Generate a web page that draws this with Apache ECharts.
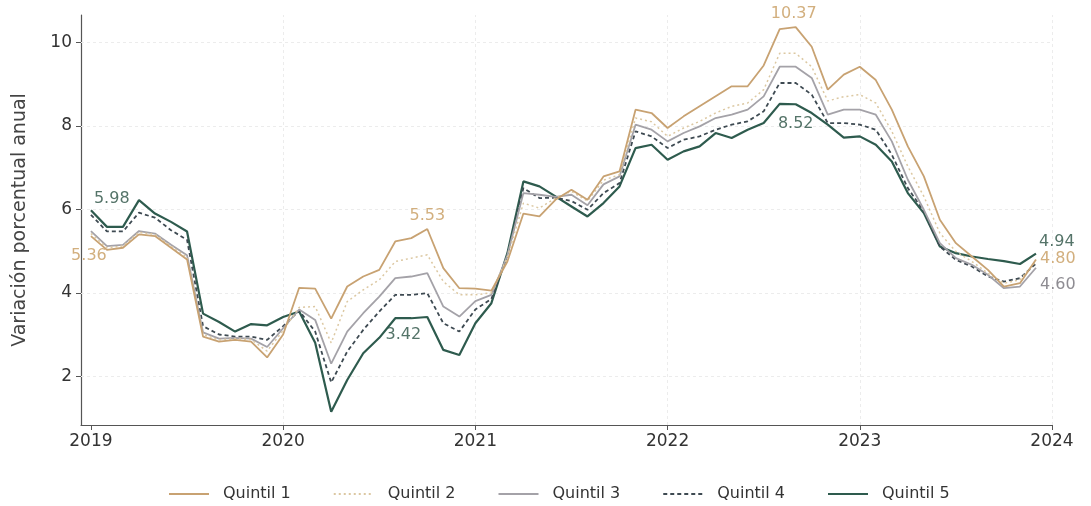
<!DOCTYPE html>
<html><head><meta charset="utf-8">
<script src="https://cdn.jsdelivr.net/npm/echarts@6/dist/echarts.min.js"></script>
<style>html,body{margin:0;padding:0;background:#fff}#c{width:1091px;height:506px}</style>
</head><body><div id="c"></div>
<script>
// ---- data ----
const startYear = 2019;                       // first month = January 2019
const yearTicks = [2019, 2020, 2021, 2022, 2023, 2024];
const yTicks = [2, 4, 6, 8, 10];
const seriesNames = ['Quintil 1', 'Quintil 2', 'Quintil 3', 'Quintil 4', 'Quintil 5'];

const quintil1 = [
  5.36, 5.03, 5.08, 5.40, 5.36, 5.08, 4.80, 2.95, 2.83, 2.87, 2.83, 2.45,
  3.00, 4.12, 4.10, 3.38, 4.15, 4.39, 4.55, 5.23, 5.31, 5.53, 4.59, 4.11,
  4.10, 4.05, 4.75, 5.90, 5.83, 6.23, 6.47, 6.23, 6.79, 6.91, 8.39, 8.31,
  7.95, 8.23, 8.47, 8.71, 8.95, 8.95, 9.45, 10.32, 10.37, 9.90, 8.87, 9.23,
  9.42, 9.10, 8.39, 7.51, 6.79, 5.75, 5.19, 4.87, 4.55, 4.15, 4.23, 4.80
];
const quintil2 = [
  5.42, 5.08, 5.12, 5.45, 5.40, 5.12, 4.85, 3.00, 2.87, 2.90, 2.88, 2.60,
  3.10, 3.65, 3.67, 2.80, 3.79, 4.07, 4.31, 4.75, 4.83, 4.91, 4.27, 3.95,
  3.95, 4.00, 4.85, 6.15, 6.03, 6.27, 6.43, 6.20, 6.70, 6.83, 8.19, 8.10,
  7.75, 7.95, 8.11, 8.31, 8.47, 8.55, 8.87, 9.74, 9.74, 9.42, 8.60, 8.70,
  8.75, 8.55, 7.87, 7.03, 6.31, 5.43, 4.99, 4.75, 4.47, 4.23, 4.31, 4.75
];
const quintil3 = [
  5.48, 5.12, 5.15, 5.48, 5.42, 5.15, 4.90, 3.05, 2.90, 2.92, 2.90, 2.70,
  3.15, 3.60, 3.35, 2.30, 3.07, 3.51, 3.91, 4.35, 4.39, 4.47, 3.67, 3.43,
  3.80, 3.95, 4.90, 6.39, 6.35, 6.30, 6.35, 6.10, 6.60, 6.79, 8.03, 7.91,
  7.63, 7.83, 7.99, 8.19, 8.27, 8.39, 8.71, 9.42, 9.42, 9.15, 8.27, 8.39,
  8.39, 8.27, 7.63, 6.71, 5.99, 5.19, 4.83, 4.67, 4.43, 4.11, 4.15, 4.60
];
const quintil4 = [
  5.87, 5.47, 5.47, 5.92, 5.80, 5.50, 5.27, 3.20, 3.00, 2.95, 2.95, 2.87,
  3.20, 3.57, 3.07, 1.85, 2.59, 3.11, 3.55, 3.95, 3.95, 3.99, 3.27, 3.07,
  3.60, 3.85, 4.90, 6.51, 6.27, 6.28, 6.20, 5.99, 6.39, 6.63, 7.87, 7.75,
  7.47, 7.67, 7.75, 7.91, 8.03, 8.11, 8.35, 9.03, 9.03, 8.75, 8.07, 8.07,
  8.03, 7.91, 7.31, 6.51, 5.95, 5.11, 4.79, 4.63, 4.39, 4.27, 4.35, 4.70
];
const quintil5 = [
  5.98, 5.58, 5.58, 6.22, 5.90, 5.70, 5.47, 3.50, 3.30, 3.07, 3.25, 3.22,
  3.42, 3.55, 2.80, 1.15, 1.91, 2.55, 2.92, 3.39, 3.39, 3.42, 2.63, 2.51,
  3.27, 3.75, 4.95, 6.67, 6.55, 6.31, 6.07, 5.83, 6.15, 6.55, 7.47, 7.55,
  7.19, 7.39, 7.51, 7.83, 7.71, 7.91, 8.07, 8.53, 8.52, 8.31, 8.03, 7.72,
  7.75, 7.55, 7.15, 6.39, 5.91, 5.11, 4.95, 4.87, 4.81, 4.76, 4.69, 4.94
];
const seriesValues = [quintil1, quintil2, quintil3, quintil4, quintil5];

// points that carry a value label: [series index, month index]
const labelledPoints = [[0, 0], [4, 0], [0, 21], [4, 21], [0, 44], [4, 44], [4, 59], [0, 59], [2, 59]];

// ---- styles ----
const FONT = 'DejaVu Sans';
const colors = ['#C8A272', '#DCC8A2', '#A4A2A8', '#3E4A52', '#2E5B4E'];
const labelColors = ['#D2AF7E', '#DCC8A2', '#8E8C92', '#3E4A52', '#557469'];
const lineTypes = ['solid', [2, 3], 'solid', [4, 3], 'solid'];
const lineWidths = [1.8, 1.5, 1.8, 1.8, 2.2];
const labelStyle = {
  '0-0':  {position: 'bottom', distance: 5, offset: [-2, 7]},
  '4-0':  {position: 'right', distance: 3, offset: [0, -11]},
  '0-21': {position: 'top', distance: 5, offset: [0, 0]},
  '4-21': {position: 'bottom', distance: 5, offset: [-24, 5]},
  '0-44': {position: 'top', distance: 5, offset: [-2, 0]},
  '4-44': {position: 'bottom', distance: 5, offset: [0, 7]},
  '4-59': {position: 'right', distance: 3, offset: [0, -12]},
  '0-59': {position: 'right', distance: 4, offset: [0, -1]},
  '2-59': {position: 'right', distance: 4, offset: [0, 17]}
};

const chart = echarts.init(document.getElementById('c'), null, {renderer: 'canvas'});

const monthTicks = yearTicks.map(y => (y - startYear) * 12);

const series = seriesValues.map((vals, s) => ({
  name: seriesNames[s],
  type: 'line',
  showSymbol: false,
  symbol: 'none',
  z: 10 - s,
  color: colors[s],
  lineStyle: {color: colors[s], width: lineWidths[s], type: lineTypes[s]},
  data: vals.map((v, i) => [i, v]),
  markPoint: {
    symbol: 'circle',
    symbolSize: 0,
    silent: true,
    animation: false,
    data: labelledPoints.filter(p => p[0] === s).map(p => ({
      coord: [p[1], vals[p[1]]],
      value: vals[p[1]],
      label: Object.assign({
        show: true,
        formatter: vals[p[1]].toFixed(2),
        color: labelColors[s],
        fontFamily: FONT,
        fontSize: 16
      }, labelStyle[s + '-' + p[1]])
    }))
  },
  emphasis: {disabled: true},
  animation: false
}));

// faint grid lines drawn from the tick arrays
series.push({
  type: 'line',
  data: [],
  silent: true,
  z: 1,
  markLine: {
    silent: true,
    symbol: 'none',
    label: {show: false},
    animation: false,
    lineStyle: {color: '#ececec', type: [3, 3], width: 1},
    data: yTicks.map(v => ({yAxis: v})).concat(monthTicks.slice(1).map(v => ({xAxis: v})))
  }
});

chart.setOption({
  backgroundColor: '#fff',
  animation: false,
  grid: {left: 81, right: 39, top: 15, bottom: 81, containLabel: false, outerBoundsMode: 'none'},
  legend: {
    data: seriesNames,
    left: 168,
    top: 486,
    padding: 0,
    itemWidth: 40,
    itemHeight: 10,
    itemGap: 42,
    itemStyle: {opacity: 0},
    textStyle: {fontFamily: FONT, fontSize: 16, color: '#333', padding: [0, 0, 0, 9]}
  },
  xAxis: {
    type: 'value',
    min: -0.62,
    max: (yearTicks[yearTicks.length - 1] - startYear) * 12,
    splitLine: {show: false},
    axisLine: {onZero: false, lineStyle: {color: '#555', width: 1.2}},
    axisTick: {show: true, length: 5, customValues: monthTicks, lineStyle: {color: '#555'}},
    axisLabel: {
      customValues: monthTicks,
      formatter: v => String(startYear + Math.round(v / 12)),
      fontFamily: FONT, fontSize: 17, color: '#333', margin: 8
    }
  },
  yAxis: {
    type: 'value',
    min: 0.83,
    max: 10.66,
    name: 'Variación porcentual anual',
    nameLocation: 'middle',
    nameGap: 51,
    nameTextStyle: {fontFamily: FONT, fontSize: 19, color: '#444'},
    splitLine: {show: false},
    axisLine: {show: true, onZero: false, lineStyle: {color: '#555', width: 1.2}},
    axisTick: {show: true, length: 5, customValues: yTicks, lineStyle: {color: '#555'}},
    axisLabel: {
      customValues: yTicks,
      fontFamily: FONT, fontSize: 17, color: '#333', margin: 9
    }
  },
  series: series
});
</script>
</body></html>
